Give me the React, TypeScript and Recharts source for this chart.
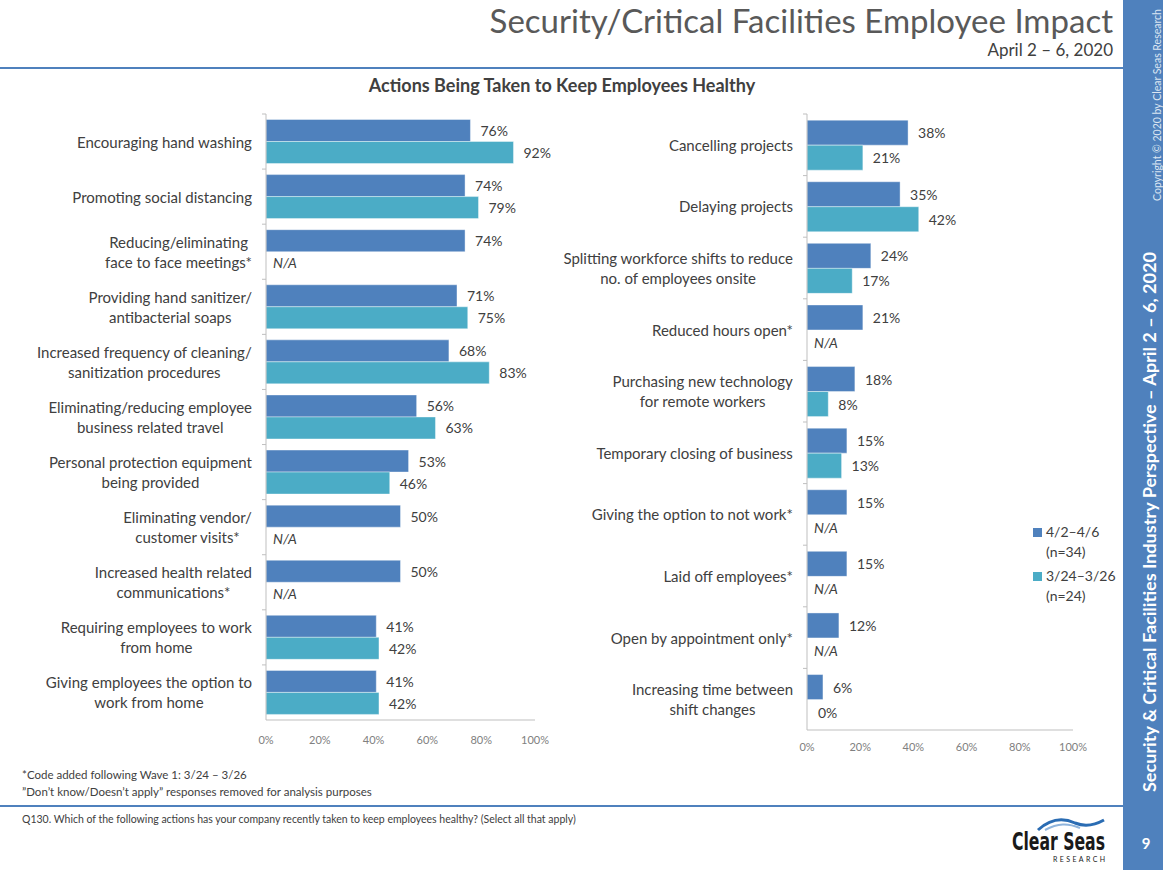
import React from 'react'
import { Bar, BarChart, LabelList, XAxis, YAxis } from 'recharts'

const leftCategories = [
  'Encouraging hand washing',
  'Promoting social distancing',
  'Reducing/eliminating\nface to face meetings*',
  'Providing hand sanitizer/\nantibacterial soaps',
  'Increased frequency of cleaning/\nsanitization procedures',
  'Eliminating/reducing employee\nbusiness related travel',
  'Personal protection equipment\nbeing provided',
  'Eliminating vendor/\ncustomer visits*',
  'Increased health related\ncommunications*',
  'Requiring employees to work\nfrom home',
  'Giving employees the option to\nwork from home',
]
const leftApril = [76, 74, 74, 71, 68, 56, 53, 50, 50, 41, 41]
const leftMarch = [92, 79, null, 75, 83, 63, 46, null, null, 42, 42]

const rightCategories = [
  'Cancelling projects',
  'Delaying projects',
  'Splitting workforce shifts to reduce\nno. of employees onsite',
  'Reduced hours open*',
  'Purchasing new technology\nfor remote workers',
  'Temporary closing of business',
  'Giving the option to not work*',
  'Laid off employees*',
  'Open by appointment only*',
  'Increasing time between\nshift changes',
]
const rightApril = [38, 35, 24, 21, 18, 15, 15, 15, 12, 6]
const rightMarch = [21, 42, 17, null, 8, 13, null, null, null, 0]

const xTicks = [0, 20, 40, 60, 80, 100]
const seriesNames = ['4/2–4/6', '3/24–3/26']
const seriesSizes = ['(n=34)', '(n=24)']

const APRIL = '#4F81BD'
const MARCH = '#4BACC6'
const TEXT = '#404040'
const FONT = 'Lato, "Open Sans", sans-serif'

let ctx: CanvasRenderingContext2D | null = null
function textWidth(text: string, font: string) {
  if (!ctx) ctx = document.createElement('canvas').getContext('2d')
  if (!ctx) return text.length * 7
  ctx.font = font
  return ctx.measureText(text).width
}

function CategoryTick(props: any) {
  const { x, y, payload, band } = props
  const lines = String(payload.value).split('\n')
  const maxW = Math.max(...lines.map((l) => textWidth(l, `15px ${FONT}`)))
  const cx = x - maxW / 2
  const top = y - band / 2
  return (
    <g>
      <line x1={x + 10} x2={x + 14} y1={top} y2={top} stroke="#bfbfbf" />
      {lines.map((l, i) => (
        <text
          key={i}
          x={cx}
          y={y + (i - (lines.length - 1) / 2) * 20}
          textAnchor="middle"
          dominantBaseline="central"
          fontFamily={FONT}
          fontSize={15}
          fill={TEXT}
        >
          {l}
        </text>
      ))}
    </g>
  )
}

function ValueLabel(props: any) {
  const { x, y, width, height, value } = props
  // zero and missing values are written by the first series' labels
  if (value == null || value === 0) return null
  return (
    <text
      x={x + width + 10}
      y={y + height / 2}
      dominantBaseline="central"
      fontFamily={FONT}
      fontSize={14}
      fill={TEXT}
    >
      {`${value}%`}
    </text>
  )
}

interface ChartProps {
  categories: string[]
  april: number[]
  march: (number | null)[]
  left: number
  width: number
  height: number
  yAxisWidth: number
  rightMargin: number
  tickMargin: number
}

function ActionChart(p: ChartProps) {
  const data = p.categories.map((name, i) => ({ name, april: p.april[i], march: p.march[i] }))
  const top = 114
  const band = (p.height - 40 - top) / data.length
  // labels for the second bar when it has no length: N/A or 0%
  const emptyLabel = (props: any) => {
    const { x, y, height, index } = props
    const v = p.march[index]
    if (v != null && v !== 0) return null
    const na = v == null
    return (
      <text
        x={x + (na ? 7 : 11)}
        y={y + height * 1.5}
        dominantBaseline="central"
        fontFamily={FONT}
        fontStyle={na ? 'italic' : 'normal'}
        fontSize={14}
        fill={TEXT}
      >
        {na ? 'N/A' : `${v}%`}
      </text>
    )
  }
  return (
    <div style={{ position: 'absolute', left: p.left, top: 0 }}>
      <BarChart
        width={p.width}
        height={p.height}
        data={data}
        layout="vertical"
        margin={{ top, right: p.rightMargin, bottom: 0, left: 0 }}
        barGap={0}
        barCategoryGap="10%"
      >
        <XAxis
          type="number"
          domain={[0, 100]}
          ticks={xTicks}
          tickFormatter={(v) => `${v}%`}
          height={40}
          tickLine={false}
          tickSize={0}
          tickMargin={p.tickMargin}
          axisLine={{ stroke: '#bfbfbf' }}
          tick={{ fill: '#808080', fontSize: 11, fontFamily: FONT }}
        />
        <YAxis
          type="category"
          dataKey="name"
          width={p.yAxisWidth}
          tickLine={false}
          tickSize={0}
          tickMargin={14}
          interval={0}
          axisLine={{ stroke: '#bfbfbf' }}
          tick={(t: any) => <CategoryTick {...t} band={band} />}
        />
        <Bar dataKey="april" fill={APRIL} stroke="#ffffff" strokeOpacity={0.4} isAnimationActive={false}>
          <LabelList dataKey="april" content={ValueLabel} />
          <LabelList dataKey="april" content={emptyLabel} />
        </Bar>
        <Bar dataKey="march" fill={MARCH} stroke="#ffffff" strokeOpacity={0.4} isAnimationActive={false}>
          <LabelList dataKey="march" content={ValueLabel} />
        </Bar>
      </BarChart>
    </div>
  )
}

export default function App() {
  return (
    <div
      style={{
        position: 'absolute',
        left: 0,
        top: 0,
        width: 1163,
        height: 870,
        background: '#ffffff',
        fontFamily: FONT,
        color: TEXT,
        overflow: 'hidden',
      }}
    >
      <svg width={1163} height={870} style={{ position: 'absolute', left: 0, top: 0 }}>
        <rect x={1123} y={0} width={40} height={870} fill="#4F81BD" />
        <line x1={0} x2={1123} y1={68} y2={68} stroke="#4F81BD" strokeWidth={2} />
        <line x1={0} x2={1123} y1={806} y2={806} stroke="#4F81BD" strokeWidth={2} />
        <text x={1113} y={33} textAnchor="end" fontFamily={FONT} fontSize={33} fill="#595959">
          Security/Critical Facilities Employee Impact
        </text>
        <text x={1113} y={56} textAnchor="end" fontFamily={FONT} fontSize={17} fill={TEXT}>
          April 2 – 6, 2020
        </text>
        <text x={562} y={92} textAnchor="middle" fontFamily={FONT} fontSize={18} fontWeight="bold" fill={TEXT}>
          Actions Being Taken to Keep Employees Healthy
        </text>
        <text x={22} y={779} fontFamily={FONT} fontSize={11.5} fill={TEXT}>
          *Code added following Wave 1: 3/24 – 3/26
        </text>
        <text x={22} y={796} fontFamily={FONT} fontSize={11.5} fill={TEXT}>
          ”Don’t know/Doesn’t apply” responses removed for analysis purposes
        </text>
        <text x={22} y={823} fontFamily={FONT} fontSize={10.5} fill={TEXT}>
          Q130. Which of the following actions has your company recently taken to keep employees healthy? (Select all that apply)
        </text>
        <text
          transform="translate(1156,522) rotate(-90)"
          textAnchor="middle"
          fontFamily={FONT}
          fontSize={16.5}
          fontWeight="bold"
          fill="#ffffff"
          textLength={540}
          lengthAdjust="spacingAndGlyphs"
        >
          Security &amp; Critical Facilities Industry Perspective – April 2 – 6, 2020
        </text>
        <text
          transform="translate(1161,105) rotate(-90)"
          textAnchor="middle"
          fontFamily={FONT}
          fontSize={10.5}
          fill="#dce6f2"
        >
          Copyright © 2020 by Clear Seas Research
        </text>
        <text x={1146} y={849} textAnchor="middle" fontFamily={FONT} fontSize={15} fontWeight="bold" fill="#ffffff">
          9
        </text>
        <path d="M1038,830 C1050,819 1062,817 1075,823 C1085,827 1095,825 1104,820" stroke="#2a6cb3" strokeWidth={3} fill="none" />
        <path d="M1045,830 C1058,823 1068,823 1080,828" stroke="#8fb4dc" strokeWidth={2} fill="none" />
        <text
          x={1012}
          y={850}
          fontFamily='"DejaVu Sans Condensed", "DejaVu Sans", sans-serif'
          fontWeight="bold"
          fontSize={25}
          textLength={93}
          lengthAdjust="spacingAndGlyphs"
          fill="#1a1a1a"
        >
          Clear Seas
        </text>
        <text x={1053} y={862} fontFamily={FONT} fontSize={7} letterSpacing={2.4} fill="#1a1a1a">
          RESEARCH
        </text>
      </svg>

      <ActionChart
        categories={leftCategories}
        april={leftApril}
        march={leftMarch}
        left={0}
        width={560}
        height={760}
        yAxisWidth={266}
        rightMargin={25}
        tickMargin={16}
      />
      <ActionChart
        categories={rightCategories}
        april={rightApril}
        march={rightMarch}
        left={540}
        width={560}
        height={770}
        yAxisWidth={267}
        rightMargin={27}
        tickMargin={13}
      />

      <div style={{ position: 'absolute', left: 1033, top: 522, fontSize: 14, lineHeight: '20px' }}>
        {seriesNames.map((name, i) => (
          <div key={name} style={{ display: 'flex', marginBottom: 4 }}>
            <div
              style={{
                width: 9,
                height: 9,
                marginTop: 6,
                marginRight: 4,
                background: i === 0 ? APRIL : MARCH,
              }}
            />
            <div>
              <div>{name}</div>
              <div>{seriesSizes[i]}</div>
            </div>
          </div>
        ))}
      </div>
    </div>
  )
}
